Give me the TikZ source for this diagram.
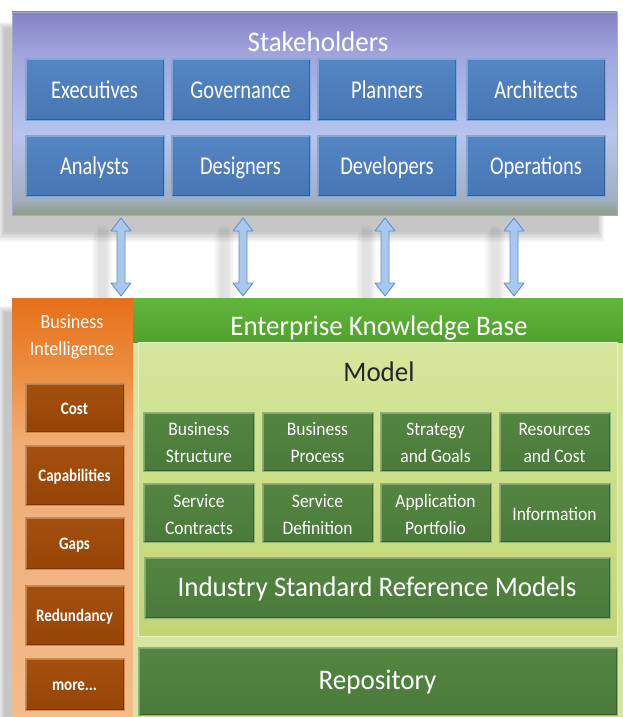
\documentclass[tikz,border=0pt]{standalone}
\usepackage{fontspec}
\setmainfont{Carlito}
\usepackage{graphicx}
\usetikzlibrary{calc}

\definecolor{stktop}{HTML}{8482C3}
\definecolor{stkhigh}{HTML}{A2A6DE}
\definecolor{stkmid}{HTML}{B7C4EE}
\definecolor{stklow}{HTML}{A3AFC0}
\definecolor{stkbot}{HTML}{8E9C86}
\definecolor{blueA}{HTML}{5486C3}
\definecolor{blueB}{HTML}{4776B3}
\definecolor{blueedge}{HTML}{7FA8DA}
\definecolor{arrfill}{HTML}{A9C8EE}
\definecolor{arredge}{HTML}{5E8FD0}
\definecolor{orA}{HTML}{E56F1A}
\definecolor{orB}{HTML}{EC8B3C}
\definecolor{orC}{HTML}{F0AC74}
\definecolor{orD}{HTML}{F3BC8C}
\definecolor{brownA}{HTML}{A4500F}
\definecolor{brownB}{HTML}{964407}
\definecolor{brownedge}{HTML}{CF8A4C}
\definecolor{ekbgreen}{HTML}{5AB232}
\definecolor{ekbbody}{HTML}{D6E6A0}
\definecolor{modelA}{HTML}{D4E79D}
\definecolor{modelB}{HTML}{C3D571}
\definecolor{greenA}{HTML}{548642}
\definecolor{greenB}{HTML}{4A7A3A}
\definecolor{greenedge}{HTML}{8DB27A}
\definecolor{modeltext}{HTML}{262626}

\pgfdeclareverticalshading{stakesh}{100bp}{color(0bp)=(stkbot); color(25bp)=(stkbot); color(29bp)=(stklow); color(45bp)=(stkmid); color(64bp)=(stkhigh); color(75bp)=(stktop); color(100bp)=(stktop)}
\pgfdeclareverticalshading{orsh}{100bp}{color(0bp)=(orD); color(25bp)=(orD); color(58bp)=(orC); color(67bp)=(orB); color(75bp)=(orA); color(100bp)=(orA)}

\newcommand\lbl[2]{\raisebox{-2.5pt}[\height][\depth]{\scalebox{1}[#1]{\begin{tabular}{@{}c@{}}#2\end{tabular}}}}

\tikzset{
  bevel/.style={path picture={
    \draw[line width=3pt, white, opacity=.28]
      (path picture bounding box.south west) -- (path picture bounding box.north west)
      -- (path picture bounding box.north east);
    \draw[line width=3pt, black, opacity=.22]
      (path picture bounding box.north east) -- (path picture bounding box.south east)
      -- (path picture bounding box.south west);
  }},
  bluebox/.style={rectangle, bevel, draw=blueedge, line width=0.8pt, top color=blueA, bottom color=blueB,
    text=white, font=\fontsize{20.5}{25}\selectfont, minimum width=139pt, minimum height=61pt, inner sep=0pt},
  brownbox/.style={rectangle, bevel, draw=brownedge, line width=0.8pt, top color=brownA, bottom color=brownB,
    text=white, font=\bfseries\fontsize{15}{19}\selectfont, minimum width=99pt, inner sep=0pt},
  greenbox/.style={rectangle, bevel, draw=greenedge, line width=0.8pt, top color=greenA, bottom color=greenB,
    text=white, font=\fontsize{17.5}{24.5}\selectfont, minimum width=111pt, minimum height=59pt, inner sep=0pt},
  bigtitle/.style={text=white, font=\fontsize{27}{30}\selectfont, inner sep=0pt},
  blockarrow/.style={draw=arredge, line width=0.9pt, fill=arrfill, line join=round},
  shadowfill/.style={fill=black, opacity=.035},
}

\begin{document}
\begin{tikzpicture}[x=1pt,y=-1pt]
\useasboundingbox (0,0) rectangle (623,717);

% soft shadows
\foreach \k in {0,...,6}{
  \fill[shadowfill] (4-\k,28-\k) rectangle (598+\k,232+1.6*\k);
  \fill[shadowfill] (4-\k,312-\k) rectangle (140,717);
}
\foreach \x in {121,243,385,514}{
  \foreach \k in {0,...,4}{
    \fill[black,opacity=.025] (\x-23-1.5*\k,226+2*\k) rectangle (\x-15+1.5*\k,298);
  }
}

% Stakeholders
\node[rectangle, shading=stakesh, draw=stktop!70!white, line width=0.6pt,
      minimum width=605pt, minimum height=203pt, inner sep=0pt] (stake) at (314.5,113.5) {};
\node[bigtitle] (stakettl) at (318,43) {\lbl{1.05}{Stakeholders}};

\node[bluebox] (exe) at (94.5,89.5)  {\lbl{1.25}{Executives}};
\node[bluebox] (gov) at (240.5,89.5) {\lbl{1.25}{Governance}};
\node[bluebox] (pla) at (387,89.5)   {\lbl{1.25}{Planners}};
\node[bluebox] (arc) at (536,89.5)   {\lbl{1.25}{Architects}};
\node[bluebox] (ana) at (94.5,165.5) {\lbl{1.25}{Analysts}};
\node[bluebox] (des) at (240.5,165.5){\lbl{1.25}{Designers}};
\node[bluebox] (dev) at (387,165.5)  {\lbl{1.25}{Developers}};
\node[bluebox] (ope) at (536,165.5)  {\lbl{1.25}{Operations}};

% Business Intelligence column
\node[rectangle, shading=orsh, minimum width=121pt, minimum height=419pt, inner sep=0pt] (bi) at (72.5,507.5) {};
\node[text=white, font=\fontsize{18}{24}\selectfont, inner sep=0pt] (bittl) at (72,334) {\lbl{1.12}{Business\\Intelligence}};
\node[brownbox, minimum height=49pt] (cost) at (74.5,407.5) {\lbl{1.17}{Cost}};
\node[brownbox, minimum height=60pt] (cap)  at (74.5,475)   {\lbl{1.17}{Capabilities}};
\node[brownbox, minimum height=52pt] (gaps) at (74.5,543)   {\lbl{1.17}{Gaps}};
\node[brownbox, minimum height=60pt] (red)  at (74.5,615)   {\lbl{1.17}{Redundancy}};
\node[brownbox, minimum height=52pt] (more) at (74.5,684)   {\lbl{1.17}{more...}};

% Enterprise Knowledge Base
\node[rectangle, fill=ekbbody, minimum width=490pt, minimum height=419pt, inner sep=0pt] (ekb) at (378,507.5) {};
\node[rectangle, top color=ekbgreen!95!white, bottom color=ekbgreen!90!black, minimum width=490pt, minimum height=44pt, inner sep=0pt] (ekbhead) at (378,320) {};
\node[bigtitle] (ekbttl) at (379,327) {\lbl{1.05}{Enterprise Knowledge Base}};
\node[rectangle, top color=modelA, bottom color=modelB, draw=modelA!60!white, line width=0.6pt,
      minimum width=479pt, minimum height=294pt, inner sep=0pt] (model) at (377.5,489) {};
\node[bigtitle, text=modeltext] (modelttl) at (379,373) {\lbl{1.05}{Model}};

\node[greenbox] (bs)  at (199,441.5)   {\lbl{1.09}{Business\\Structure}};
\node[greenbox] (bp)  at (317.5,441.5) {\lbl{1.09}{Business\\Process}};
\node[greenbox] (sg)  at (435.5,441.5) {\lbl{1.09}{Strategy\\and Goals}};
\node[greenbox] (rc)  at (554.5,441.5) {\lbl{1.09}{Resources\\and Cost}};
\node[greenbox] (sc)  at (199,513)     {\lbl{1.09}{Service\\Contracts}};
\node[greenbox] (sd)  at (317.5,513)   {\lbl{1.09}{Service\\Definition}};
\node[greenbox] (ap)  at (435.5,513)   {\lbl{1.09}{Application\\Portfolio}};
\node[greenbox] (inf) at (554.5,513)   {\lbl{1.09}{Information}};
\node[greenbox, minimum width=466pt, minimum height=61pt, font=\fontsize{27}{30}\selectfont] (isrm) at (377,587.5)
  {\lbl{1.05}{Industry Standard Reference Models}};
\node[greenbox, minimum width=479pt, minimum height=68pt, font=\fontsize{27}{30}\selectfont] (repo) at (377.5,681)
  {\lbl{1.05}{Repository}};

% double arrows between Stakeholders and the knowledge base
\foreach \i/\x in {1/121,2/243,3/385,4/514}{
  \coordinate (at\i) at (\x,218);
  \coordinate (ab\i) at (\x,296);
  \draw[blockarrow] (at\i) -- ($(at\i)+(10,13)$) -- ($(at\i)+(4,13)$) -- ($(ab\i)+(4,-13)$)
     -- ($(ab\i)+(10,-13)$) -- (ab\i) -- ($(ab\i)+(-10,-13)$) -- ($(ab\i)+(-4,-13)$)
     -- ($(at\i)+(-4,13)$) -- ($(at\i)+(-10,13)$) -- cycle;
}
\end{tikzpicture}
\end{document}
